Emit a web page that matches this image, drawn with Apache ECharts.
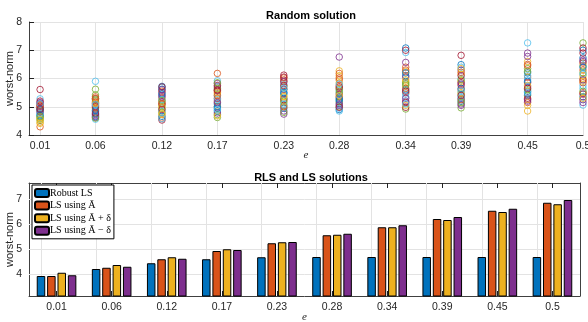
<!DOCTYPE html>
<html>
<head>
<meta charset="utf-8">
<script src="https://cdn.jsdelivr.net/npm/echarts@6/dist/echarts.min.js"></script>
<style>html,body{margin:0;padding:0;background:#fff}#c{width:588px;height:322px}</style>
</head>
<body>
<div id="c"></div>
<script>
// ---- data ----
const eVals = [0.01, 0.06, 0.12, 0.17, 0.23, 0.28, 0.34, 0.39, 0.45, 0.5];
const eLabels = ['0.01', '0.06', '0.12', '0.17', '0.23', '0.28', '0.34', '0.39', '0.45', '0.5'];

// random-solution worst-norm values per e (one entry per trial)
const rand001 = [4.72, 4.29, 4.45, 4.88, 4.52, 5.28, 5.61, 4.95, 5.08, 4.62, 5.15, 4.58, 4.78, 5.02, 4.68, 4.98, 4.41, 5.12, 4.85, 4.75, 5.20, 4.90, 5.05, 4.55, 4.82, 4.65, 5.10, 4.92];
const rand006 = [4.85, 5.20, 4.95, 4.72, 5.62, 5.90, 5.10, 4.65, 5.35, 4.92, 5.05, 5.42, 4.56, 5.28, 4.75, 5.15, 4.98, 4.68, 5.25, 4.82, 5.00, 4.88, 5.30, 5.12, 4.62, 4.60, 5.08, 4.78];
const rand012 = [5.72, 4.60, 5.30, 5.50, 5.05, 4.85, 4.53, 5.62, 5.18, 4.72, 5.40, 4.95, 5.25, 5.10, 4.66, 5.55, 5.00, 5.35, 4.80, 5.68, 4.90, 5.45, 5.12, 4.75, 5.60, 5.22, 4.58, 5.70];
const rand017 = [5.10, 6.18, 5.45, 5.70, 4.62, 5.92, 5.30, 4.85, 5.55, 5.02, 5.82, 4.72, 5.38, 5.60, 4.95, 5.20, 5.50, 4.78, 5.65, 5.25, 5.75, 5.00, 5.40, 4.68, 5.15, 5.85, 4.90, 5.58];
const rand023 = [5.30, 5.95, 5.60, 4.74, 5.05, 5.80, 6.12, 5.45, 6.02, 5.15, 4.85, 5.70, 5.52, 5.25, 4.95, 5.88, 5.38, 5.62, 4.80, 5.10, 5.75, 5.50, 5.00, 5.35, 5.90, 5.20, 5.65, 6.05];
const rand028 = [5.20, 5.95, 6.27, 6.76, 5.00, 5.55, 5.35, 4.90, 5.75, 6.10, 5.45, 5.15, 4.85, 5.65, 5.30, 6.02, 5.85, 5.10, 5.50, 4.95, 5.70, 5.25, 6.18, 5.40, 5.05, 5.60, 5.80, 4.98];
const rand034 = [7.08, 6.40, 5.90, 6.57, 4.92, 6.92, 7.00, 6.10, 5.50, 6.25, 5.20, 5.75, 5.35, 4.98, 5.60, 6.30, 5.05, 6.05, 5.85, 5.45, 5.15, 6.20, 5.65, 5.95, 5.30, 5.80, 5.10, 5.55];
const rand039 = [6.49, 5.60, 5.90, 6.30, 4.96, 6.40, 6.82, 5.30, 5.75, 6.15, 5.10, 5.45, 6.00, 5.85, 5.20, 6.22, 5.50, 5.05, 5.95, 5.35, 6.10, 5.65, 5.25, 6.35, 5.80, 5.15, 5.55, 5.40];
const rand045 = [5.55, 6.05, 4.85, 6.90, 5.40, 7.26, 5.85, 6.20, 5.15, 6.60, 5.70, 6.35, 5.95, 5.25, 5.45, 6.45, 5.05, 6.78, 5.60, 6.10, 5.30, 5.90, 6.50, 5.75, 5.20, 6.25, 5.50, 5.65];
const rand050 = [7.00, 6.30, 5.90, 6.60, 7.26, 5.06, 7.08, 6.73, 5.50, 6.10, 5.25, 6.45, 5.75, 6.90, 5.35, 6.55, 6.00, 5.15, 6.20, 5.65, 5.45, 6.40, 5.85, 5.30, 6.65, 5.55, 6.15, 5.95];
const randAll = [rand001, rand006, rand012, rand017, rand023, rand028, rand034, rand039, rand045, rand050];

// RLS / LS bar values
const robustLS = [3.92, 4.20, 4.43, 4.59, 4.67, 4.68, 4.68, 4.68, 4.68, 4.68];
const lsAbar = [3.92, 4.25, 4.59, 4.92, 5.23, 5.55, 5.87, 6.20, 6.53, 6.85];
const lsAbarPlus = [4.05, 4.36, 4.67, 4.99, 5.27, 5.57, 5.87, 6.16, 6.48, 6.79];
const lsAbarMinus = [3.95, 4.29, 4.61, 4.96, 5.28, 5.61, 5.95, 6.28, 6.61, 6.96];
const barNames = ['Robust LS', 'LS using Ā', 'LS using Ā + δ', 'LS using Ā − δ'];

const topYTicks = [4, 5, 6, 7, 8];
const botYTicks = [4, 5, 6, 7];

// ---- style ----
const mColors = ['#0072BD', '#D95319', '#EDB120', '#7E2F8E', '#77AC30', '#4DBEEE', '#A2142F'];
const FONT = 'Liberation Sans, Arial, Helvetica, sans-serif';
const SERIF = 'Liberation Serif, Times New Roman, serif';
const TXT = '#262626';
const AX = '#404040';
const GRIDC = '#e3e3e3';

const chart = echarts.init(document.getElementById('c'), null, {renderer: 'canvas'});

const series = [];
const nTrials = rand001.length;
for (let k = 0; k < nTrials; k++) {
  series.push({
    type: 'scatter', xAxisIndex: 0, yAxisIndex: 0, z: 3,
    symbol: 'circle', symbolSize: 6.5, silent: true,
    itemStyle: {color: 'rgba(0,0,0,0)', borderColor: mColors[k % 7], borderWidth: 1},
    data: eVals.map((e, i) => [e, randAll[i][k]])
  });
}
// grid lines for the top chart (vertical ones at e values)
series.push({
  type: 'scatter', xAxisIndex: 0, yAxisIndex: 0, data: [], silent: true,
  markLine: {silent: true, z: 1, symbol: ['none', 'none'], label: {show: false},
    lineStyle: {color: GRIDC, type: 'solid', width: 1},
    data: eVals.map(e => ({xAxis: e}))}
});

const barSets = [robustLS, lsAbar, lsAbarPlus, lsAbarMinus];
barSets.forEach((d, j) => {
  const s = {
    type: 'bar', name: barNames[j], xAxisIndex: 1, yAxisIndex: 1, z: 3,
    barWidth: 8.5, barGap: '22%',
    itemStyle: {color: mColors[j], borderColor: '#000', borderWidth: 1},
    data: d
  };
  if (j === 0) {
    s.markLine = {silent: true, z: 1, symbol: ['none', 'none'], label: {show: false},
      lineStyle: {color: GRIDC, type: 'solid', width: 1},
      data: eLabels.map(l => ({xAxis: l})).concat(botYTicks.map(v => ({yAxis: v})))};
  }
  series.push(s);
});

const axisLineStyle = {show: true, lineStyle: {color: AX, width: 1}};
const labelStyle = {color: TXT, fontFamily: FONT, fontSize: 10.5};

chart.setOption({
  animation: false,
  backgroundColor: '#fff',
  title: [
    {text: 'Random solution', left: 306, top: 5, textAlign: 'center',
      textStyle: {fontFamily: FONT, fontSize: 11, fontWeight: 'bold', color: '#000'}},
    {text: 'RLS and LS solutions', left: 306, top: 167, textAlign: 'center',
      textStyle: {fontFamily: FONT, fontSize: 11, fontWeight: 'bold', color: '#000'}}
  ],
  legend: {
    data: barNames, orient: 'vertical', left: 32, top: 185,
    itemWidth: 14, itemHeight: 8, itemGap: 2.6, padding: [3, 3, 3, 2],
    backgroundColor: '#fff', borderColor: '#000', borderWidth: 1,
    selectedMode: false,
    textStyle: {fontFamily: SERIF, fontSize: 10, lineHeight: 9, color: '#000', padding: [0, 0, 0, -4]}
  },
  grid: [
    {left: 29, top: 22, width: 554, height: 113, containLabel: false, outerBoundsMode: 'none'},
    {left: 29, top: 183, width: 551, height: 113, containLabel: false, outerBoundsMode: 'none'}
  ],
  xAxis: [
    {type: 'value', gridIndex: 0, min: 0, max: 0.5,
      axisLine: axisLineStyle,
      axisTick: {show: true, inside: true, length: 5, customValues: eVals, lineStyle: {color: '#222'}},
      axisLabel: Object.assign({customValues: eVals, margin: 6,
        formatter: v => eLabels[eVals.indexOf(v)] ?? String(v)}, labelStyle),
      splitLine: {show: false},
      name: 'e', nameLocation: 'middle', nameGap: 15, nameMoveOverlap: false,
      nameTextStyle: {fontFamily: SERIF, fontStyle: 'italic', fontSize: 11, color: TXT}},
    {type: 'category', gridIndex: 1, data: eLabels, boundaryGap: true,
      axisLine: axisLineStyle,
      axisTick: {show: true, inside: true, length: 5, alignWithLabel: true, lineStyle: {color: '#222'}},
      axisLabel: Object.assign({margin: 6}, labelStyle),
      splitLine: {show: false},
      name: 'e', nameLocation: 'middle', nameGap: 16, nameMoveOverlap: false,
      nameTextStyle: {fontFamily: SERIF, fontStyle: 'italic', fontSize: 11, color: TXT}},
    {type: 'category', gridIndex: 1, data: eLabels, position: 'top', boundaryGap: true,
      axisLine: axisLineStyle,
      axisTick: {show: true, inside: true, length: 5, alignWithLabel: true, lineStyle: {color: '#222'}},
      axisLabel: {show: false}, splitLine: {show: false}}
  ],
  yAxis: [
    {type: 'value', gridIndex: 0, min: 4, max: 8, interval: 1,
      axisLine: axisLineStyle,
      axisTick: {show: true, inside: true, length: 5, lineStyle: {color: '#222'}},
      axisLabel: Object.assign({margin: 7}, labelStyle),
      splitLine: {show: true, lineStyle: {color: GRIDC, width: 1}},
      name: 'worst-norm', nameLocation: 'middle', nameGap: 14, nameMoveOverlap: false,
      nameTextStyle: {fontFamily: FONT, fontSize: 11, color: TXT}},
    {type: 'value', gridIndex: 1, min: 3.12, max: 7.64,
      axisLine: axisLineStyle,
      axisTick: {show: true, inside: true, length: 5, customValues: botYTicks, lineStyle: {color: '#222'}},
      axisLabel: Object.assign({customValues: botYTicks, margin: 7}, labelStyle),
      splitLine: {show: false},
      name: 'worst-norm', nameLocation: 'middle', nameGap: 14, nameMoveOverlap: false,
      nameTextStyle: {fontFamily: FONT, fontSize: 11, color: TXT}},
    {type: 'value', gridIndex: 1, min: 3.12, max: 7.64, position: 'right',
      axisLine: axisLineStyle,
      axisTick: {show: true, inside: true, length: 5, customValues: botYTicks, lineStyle: {color: '#222'}},
      axisLabel: {show: false, customValues: botYTicks},
      splitLine: {show: false}}
  ],
  series: series
});
</script>
</body>
</html>
